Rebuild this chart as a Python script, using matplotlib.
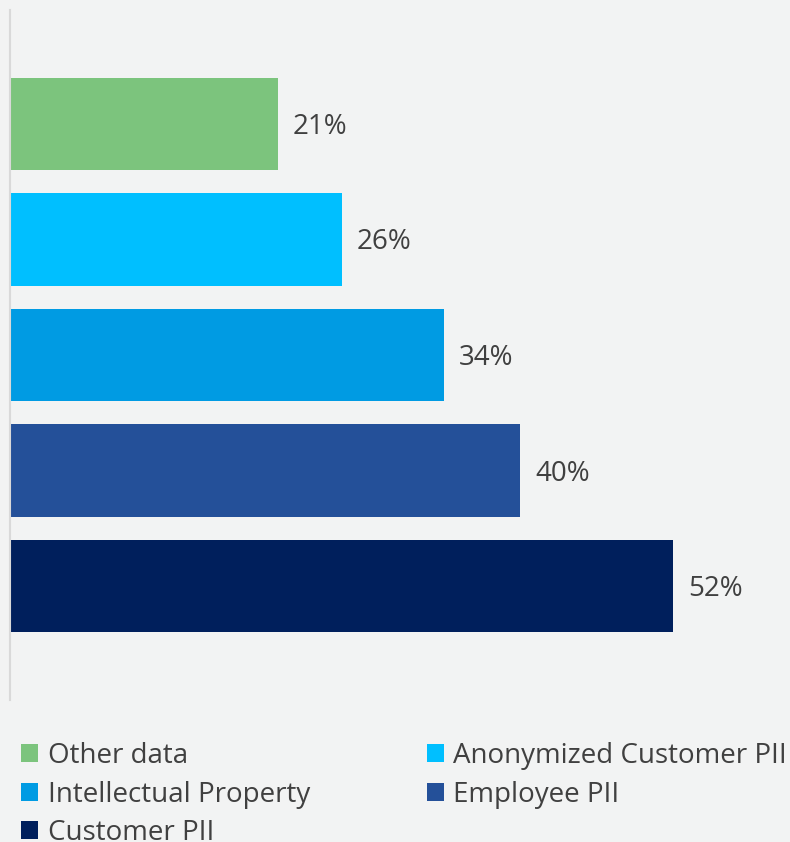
import matplotlib
matplotlib.use('Agg')
import matplotlib.pyplot as plt
from matplotlib.patches import Patch

# data (top to bottom)
categories = ['Other data', 'Anonymized Customer PII', 'Intellectual Property',
              'Employee PII', 'Customer PII']
values = [21, 26, 34, 40, 52]
colors = ['#7cc47d', '#00bfff', '#009be3', '#245099', '#001f5c']

bg = '#f2f3f3'
txt = '#404040'
font = 'Open Sans'

fig = plt.figure(figsize=(7.9, 8.42), dpi=100, facecolor=bg)
W, H = 790, 842
ax = fig.add_axes([10 / W, 1 - 700 / H, 780 / W, 690 / H], facecolor=bg)

ypos = list(range(len(categories)))
ax.barh(ypos, values, height=0.805, color=colors)

for y, v in zip(ypos, values):
    ax.annotate(f'{v}%', (v, y), xytext=(15, -3), textcoords='offset pixels',
                va='center', ha='left', fontsize=20, color=txt, family=font)

ax.set_xlim(0, 780 / 12.75)
ax.set_ylim(4.987, -0.987)
for s in ['top', 'right', 'bottom']:
    ax.spines[s].set_visible(False)
ax.spines['left'].set_color('#d9d9d9')
ax.spines['left'].set_linewidth(1.5)
ax.set_xticks([])
ax.set_yticks([])

# legend, filled column-wise
order = [0, 2, 4, 1, 3]
handles = [Patch(facecolor=colors[i], label=categories[i]) for i in order]
fig.legend(handles=handles, ncol=2, loc='upper left',
           bbox_to_anchor=(21 / W, 1 - 742 / H), frameon=False,
           prop={'family': font, 'size': 20}, labelcolor=txt,
           handlelength=0.62, handleheight=0.62, handletextpad=0.34,
           columnspacing=4.2, labelspacing=0.38, borderaxespad=0,
           borderpad=0)

fig.savefig('out.png', dpi=100, facecolor=bg)
